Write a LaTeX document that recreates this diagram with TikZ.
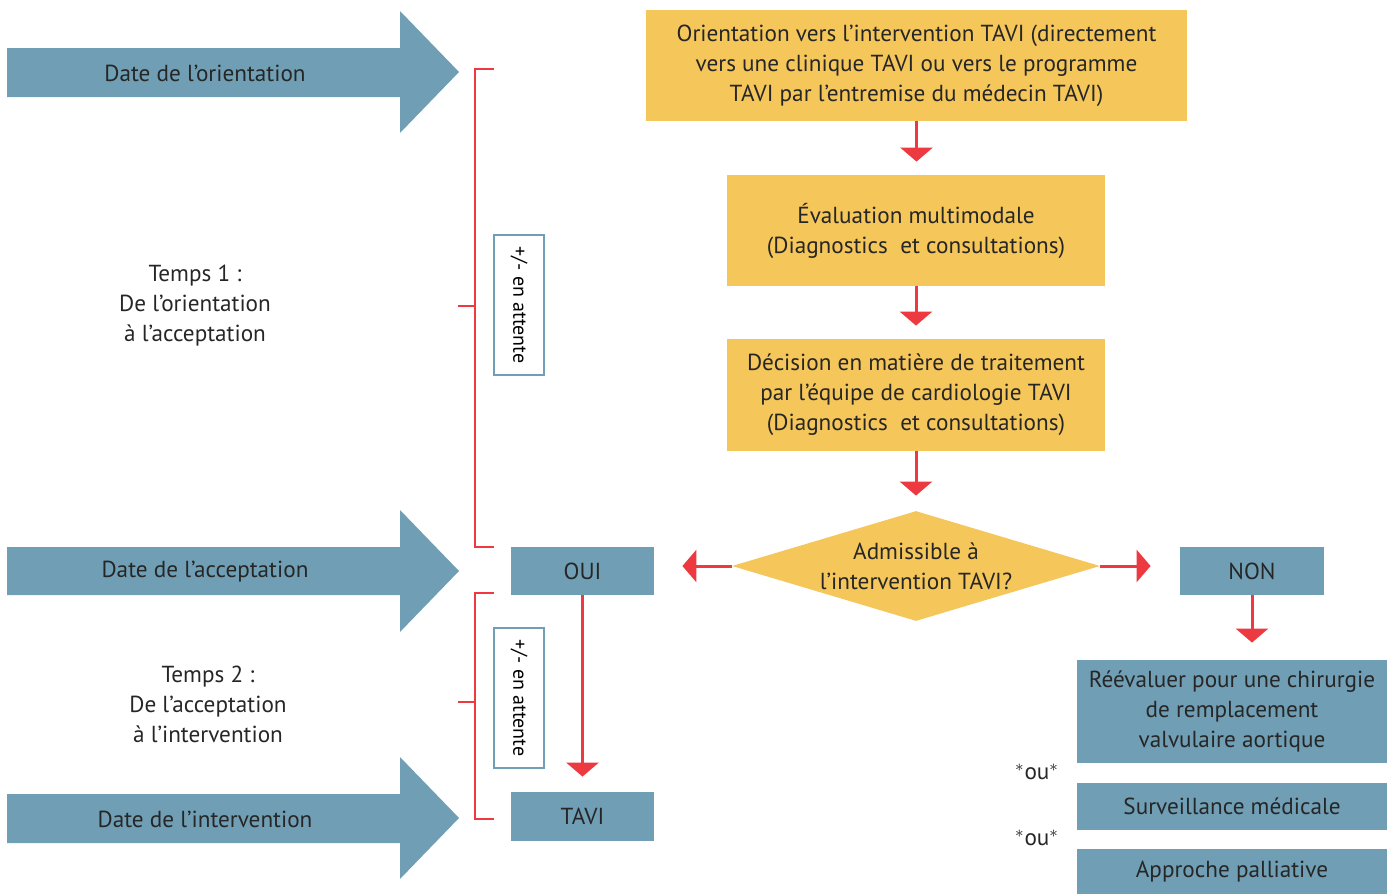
\documentclass[tikz,border=0pt]{standalone}
\usepackage{fontspec}
\setmainfont{PT Sans}
\usepackage{tikz}
\usetikzlibrary{arrows.meta,positioning,shapes.geometric,calc}

\definecolor{stepblue}{RGB}{112,159,181}
\definecolor{stepyellow}{RGB}{245,198,90}
\definecolor{flowred}{RGB}{236,58,64}

\begin{document}
\begin{tikzpicture}[x=0.5pt,y=-0.5pt,
  txt/.style={font=\fontsize{11.6}{15}\selectfont, text=black!85, align=center},
  ybox/.style={txt, fill=stepyellow, inner sep=0pt},
  bbox/.style={txt, fill=stepblue, inner sep=0pt},
  waitbox/.style={draw=stepblue, line width=1pt, fill=white, rotate=-90, inner sep=0pt,
    minimum width=70pt, minimum height=25pt, font=\fontsize{10}{12}\selectfont},
  flow/.style={draw=flowred, line width=1.5pt, -{Triangle[width=16pt,length=7pt]}},
  brack/.style={draw=flowred, line width=1pt}]

% Bounding box
\useasboundingbox (0,0) rectangle (1387,894);

% Big date arrows
\fill[stepblue] (7,48) -- (400,48) -- (400,11) -- (459,72) -- (400,133) -- (400,97) -- (7,97) -- cycle;
\fill[stepblue] (7,547) -- (400,547) -- (400,510) -- (459,571) -- (400,632) -- (400,595) -- (7,595) -- cycle;
\fill[stepblue] (7,794) -- (400,794) -- (400,757) -- (459,818) -- (400,879) -- (400,843) -- (7,843) -- cycle;
\node[txt] (dorient) at (205,73) {Date de l'orientation};
\node[txt] (daccept) at (205,572) {Date de l'acceptation};
\node[txt] (dinterv) at (205,819) {Date de l'intervention};

% Time periods
\node[txt] (temps1) at (195,306) {Temps 1 :\\De l'orientation\\à l'acceptation};
\node[txt] (temps2) at (208,704) {Temps 2 :\\De l'acceptation\\à l'intervention};

% Brackets
\draw[brack] (494,69) -- (475,69) -- (475,547) -- (494,547);
\draw[brack] (458,306) -- (475,306);
\draw[brack] (494,593) -- (475,593) -- (475,819) -- (494,819);
\draw[brack] (458,702) -- (475,702);

% Waiting boxes
\node[waitbox] (wait1) at (519,305) {+/- en attente};
\node[waitbox] (wait2) at (519,698) {+/- en attente};

% Main flow
\node[ybox, minimum width=270.5pt, minimum height=55.5pt] (orient) at (916.5,65.5)
  {Orientation vers l'intervention TAVI (directement\\vers une clinique TAVI ou vers le programme\\TAVI par l'entremise du médecin TAVI)};
\node[ybox, minimum width=189pt, minimum height=55.5pt] (evalm) at (916,230.5)
  {Évaluation multimodale\\(Diagnostics\ \ et consultations)};
\node[ybox, minimum width=189pt, minimum height=56pt] (decis) at (916,395)
  {Décision en matière de traitement\\par l'équipe de cardiologie TAVI\\(Diagnostics\ \ et consultations)};
\node[ybox, diamond, aspect=3.35, minimum width=184pt, minimum height=55pt] (admis) at (916,566)
  {Admissible à\\l'intervention TAVI?};

% Outcomes
\node[bbox, minimum width=71.5pt, minimum height=24pt] (oui) at (582.5,571) {OUI};
\node[bbox, minimum width=72pt, minimum height=24pt] (non) at (1252,571) {NON};
\node[bbox, minimum width=71.5pt, minimum height=24.5pt] (tavi) at (582.5,816.5) {TAVI};
\node[bbox, minimum width=155pt, minimum height=51.5pt] (reeval) at (1232,711.5)
  {Réévaluer pour une chirurgie\\de remplacement\\valvulaire aortique};
\node[bbox, minimum width=155pt, minimum height=23.5pt] (surv) at (1232,806.5) {Surveillance médicale};
\node[bbox, minimum width=155pt, minimum height=22.5pt] (pall) at (1232,871.5) {Approche palliative};
\node[txt] (ou1) at (1037,772) {$^{\ast}$ou$^{\ast}$};
\node[txt] (ou2) at (1037,838) {$^{\ast}$ou$^{\ast}$};

% Arrows
\draw[flow, shorten >=6.5pt] (orient.south) -- (orient.south |- evalm.north);
\draw[flow, shorten >=6.5pt] (evalm.south) -- (decis.north);
\draw[flow, shorten >=7.5pt] (decis.south) -- (admis.north);
\draw[flow, shorten >=14pt] (admis.west) -- (oui.east |- admis.west);
\draw[flow, shorten >=14.5pt] (admis.east) -- (non.west |- admis.east);
\draw[flow, shorten >=7.5pt] (oui.south) -- (tavi.north);
\draw[flow, shorten >=8.5pt] (non.south) -- (non.south |- reeval.north);
\end{tikzpicture}
\end{document}
